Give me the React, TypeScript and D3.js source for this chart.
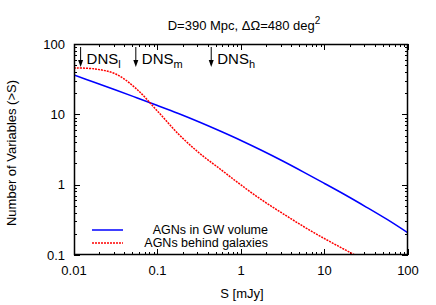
import React, { useEffect, useRef } from 'react';
import * as d3 from 'd3';

// values (S in mJy, N(>S))
const sGrid = [0.01, 0.0178, 0.0316, 0.0562, 0.1, 0.178, 0.316, 0.562, 1, 1.78, 3.16, 5.62, 10, 17.8, 31.6, 56.2, 100];
const agnInVolume = [36.2, 28.4, 22.2, 17.24, 13.35, 10.27, 7.78, 5.79, 4.25, 3.06, 2.17, 1.51, 1.04, 0.713, 0.481, 0.32, 0.206];
const agnBehind = [45.6, 44.2, 37.4, 22.9, 11.1, 5.25, 2.82, 1.67, 0.99, 0.605, 0.389, 0.254, 0.171, 0.118, 0.082, 0.058, 0.042];

const dnsLabels = ['l', 'm', 'h'];
const dnsFlux = [0.012, 0.055, 0.44];

const xTicks = [0.01, 0.1, 1, 10, 100];
const xTickLabels = ['0.01', '0.1', '1', '10', '100'];
const yTicks = [0.1, 1, 10, 100];
const yTickLabels = ['0.1', '1', '10', '100'];

const seriesNames = ['AGNs in GW volume', 'AGNs behind galaxies'];
const seriesColors = ['#0000ff', '#ff0000'];

const App: React.FC = () => {
  const svgRef = useRef<SVGSVGElement>(null);

  useEffect(() => {
    if (!svgRef.current) return;
    const width = 436;
    const height = 305;
    const left = 74, right = 408, top = 44, bottom = 255;
    const font = '"Liberation Sans", Arial, Helvetica, sans-serif';

    const svg = d3.select(svgRef.current);
    svg.selectAll('*').remove();
    svg.attr('width', width).attr('height', height).style('font-family', font);

    svg.append('rect').attr('width', width).attr('height', height).attr('fill', '#fff');

    const x = d3.scaleLog().domain([0.01, 100]).range([left, right]);
    const y = d3.scaleLog().domain([0.1, 100]).range([bottom, top]);

    svg.append('clipPath').attr('id', 'plotclip')
      .append('rect').attr('x', left).attr('y', top).attr('width', right - left).attr('height', bottom - top);

    // minor + major ticks, mirrored on all sides
    const tickG = svg.append('g').attr('stroke', '#000').attr('stroke-width', 1);
    const xMinor: number[] = [];
    for (let e = -2; e < 2; e++) for (let m = 2; m <= 9; m++) xMinor.push(m * Math.pow(10, e));
    const yMinor: number[] = [];
    for (let e = -1; e < 2; e++) for (let m = 2; m <= 9; m++) yMinor.push(m * Math.pow(10, e));

    xMinor.forEach(v => {
      const px = Math.round(x(v)) + 0.5;
      tickG.append('line').attr('x1', px).attr('x2', px).attr('y1', bottom).attr('y2', bottom - 3);
      tickG.append('line').attr('x1', px).attr('x2', px).attr('y1', top).attr('y2', top + 3);
    });
    xTicks.forEach(v => {
      const px = Math.round(x(v)) + 0.5;
      tickG.append('line').attr('x1', px).attr('x2', px).attr('y1', bottom).attr('y2', bottom - 6);
      tickG.append('line').attr('x1', px).attr('x2', px).attr('y1', top).attr('y2', top + 6);
    });
    yMinor.forEach(v => {
      const py = Math.round(y(v)) + 0.5;
      tickG.append('line').attr('x1', left).attr('x2', left + 3).attr('y1', py).attr('y2', py);
      tickG.append('line').attr('x1', right).attr('x2', right - 3).attr('y1', py).attr('y2', py);
    });
    yTicks.forEach(v => {
      const py = Math.round(y(v)) + 0.5;
      tickG.append('line').attr('x1', left).attr('x2', left + 6).attr('y1', py).attr('y2', py);
      tickG.append('line').attr('x1', right).attr('x2', right - 6).attr('y1', py).attr('y2', py);
    });

    // tick labels
    xTicks.forEach((v, i) => {
      svg.append('text').attr('x', x(v)).attr('y', 275).attr('text-anchor', 'middle')
        .attr('font-size', 13).text(xTickLabels[i]);
    });
    yTicks.forEach((v, i) => {
      svg.append('text').attr('x', 65).attr('y', y(v)).attr('dy', '0.35em').attr('text-anchor', 'end')
        .attr('font-size', 13).text(yTickLabels[i]);
    });

    // curves
    const line = d3.line<[number, number]>()
      .x(d => x(d[0]))
      .y(d => y(d[1]))
      .curve(d3.curveCatmullRom.alpha(0.5));

    const curves = [agnInVolume, agnBehind];
    curves.forEach((vals, k) => {
      svg.append('path')
        .datum(sGrid.map((s, i) => [s, vals[i]] as [number, number]))
        .attr('d', line)
        .attr('clip-path', 'url(#plotclip)')
        .attr('fill', 'none')
        .attr('stroke', seriesColors[k])
        .attr('stroke-width', 1.5)
        .attr('stroke-dasharray', k === 1 ? '2,1' : null);
    });

    // DNS arrows
    dnsFlux.forEach((s, i) => {
      const px = x(s);
      svg.append('line').attr('x1', px).attr('x2', px).attr('y1', 47).attr('y2', 61)
        .attr('stroke', '#000').attr('stroke-width', 1);
      svg.append('path')
        .attr('d', `M${px - 2.5},${60} L${px + 2.5},${60} L${px},${67} Z`)
        .attr('fill', '#000');
      const t = svg.append('text').attr('x', px + 6).attr('y', 64).attr('font-size', 15);
      t.append('tspan').text('DNS');
      t.append('tspan').attr('font-size', 11).attr('dy', 4).text(dnsLabels[i]);
    });

    // legend
    seriesNames.forEach((name, k) => {
      const ly = 230 + k * 13;
      svg.append('line').attr('x1', 92).attr('x2', 123).attr('y1', ly).attr('y2', ly)
        .attr('stroke', seriesColors[k]).attr('stroke-width', 1.5)
        .attr('stroke-dasharray', k === 1 ? '2,1' : null);
      svg.append('text').attr('x', 268).attr('y', ly).attr('dy', '0.35em').attr('text-anchor', 'end')
        .attr('font-size', 12.5).text(name);
    });

    // frame
    svg.append('rect').attr('x', left + 0.5).attr('y', top + 0.5)
      .attr('width', right - left - 1).attr('height', bottom - top - 1)
      .attr('fill', 'none').attr('stroke', '#000').attr('stroke-width', 1.5);

    // title
    const title = svg.append('text').attr('x', 244).attr('y', 30).attr('text-anchor', 'middle').attr('font-size', 13);
    title.append('tspan').text('D=390 Mpc, \u0394\u03A9=480 deg');
    title.append('tspan').attr('font-size', 10).attr('dy', -6).text('2');

    // axis labels
    svg.append('text').attr('x', 242).attr('y', 298).attr('text-anchor', 'middle').attr('font-size', 13).text('S [mJy]');
    svg.append('text').attr('transform', 'translate(16,153) rotate(-90)').attr('text-anchor', 'middle')
      .attr('font-size', 13).text('Number of Variables (>S)');
  }, []);

  return <svg ref={svgRef} style={{ position: 'absolute', left: 0, top: 0, display: 'block' }} />;
};

export default App;
